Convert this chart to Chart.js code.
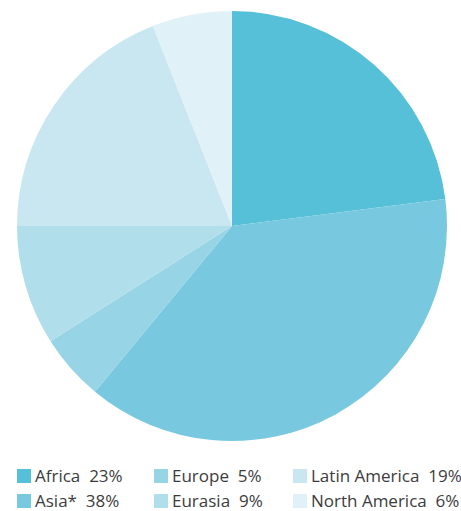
<!DOCTYPE html>
<html lang="en">
<head>
  <meta charset="UTF-8">
  <title>Regions</title>
  <style>
    body {
      margin: 0;
      background: white;
      font-family: 'Open Sans', sans-serif;
    }
    .wrap {
      position: relative;
      width: 461px;
      height: 511px;
    }
    .chart-box {
      position: absolute;
      left: 0;
      top: 0;
      width: 461px;
      height: 452px;
    }
    .legend-item {
      position: absolute;
      font-size: 17px;
      color: #3c3c3c;
      white-space: nowrap;
      line-height: 20px;
    }
    .legend-item span.sw {
      display: inline-block;
      width: 14px;
      height: 14px;
      vertical-align: -1px;
      margin-right: 4px;
    }
  </style>
  <script src="https://cdn.jsdelivr.net/npm/chart.js"></script>
</head>
<body>
  <div class="wrap">
    <div class="chart-box"><canvas id="pieChart"></canvas></div>
    <div id="legend"></div>
  </div>

  <script>
    const regions = ['Africa', 'Asia*', 'Europe', 'Eurasia', 'Latin America', 'North America'];
    const shares = [23, 38, 5, 9, 19, 6];
    const colors = ['#56c0d8', '#78c9df', '#97d4e5', '#b1deeb', '#c9e7f0', '#e0f1f7'];

    // legend is laid out in columns, two per column
    const legendCols = [17, 154, 293];
    const legendRows = [466, 491];
    const legend = document.getElementById('legend');
    regions.forEach((name, i) => {
      const div = document.createElement('div');
      div.className = 'legend-item';
      div.style.left = legendCols[Math.floor(i / 2)] + 'px';
      div.style.top = legendRows[i % 2] + 'px';
      div.innerHTML = '<span class="sw" style="background:' + colors[i] + '"></span>' +
        name + '&nbsp; ' + shares[i] + '%';
      legend.appendChild(div);
    });

    const ctx = document.getElementById('pieChart').getContext('2d');
    new Chart(ctx, {
      type: 'pie',
      data: {
        labels: regions,
        datasets: [{
          data: shares,
          backgroundColor: colors,
          borderWidth: 0
        }]
      },
      options: {
        responsive: true,
        maintainAspectRatio: false,
        animation: false,
        layout: {
          padding: { top: 11, bottom: 11, left: 17, right: 14 }
        },
        plugins: {
          legend: { display: false },
          tooltip: { enabled: false }
        }
      }
    });
  </script>
</body>
</html>
